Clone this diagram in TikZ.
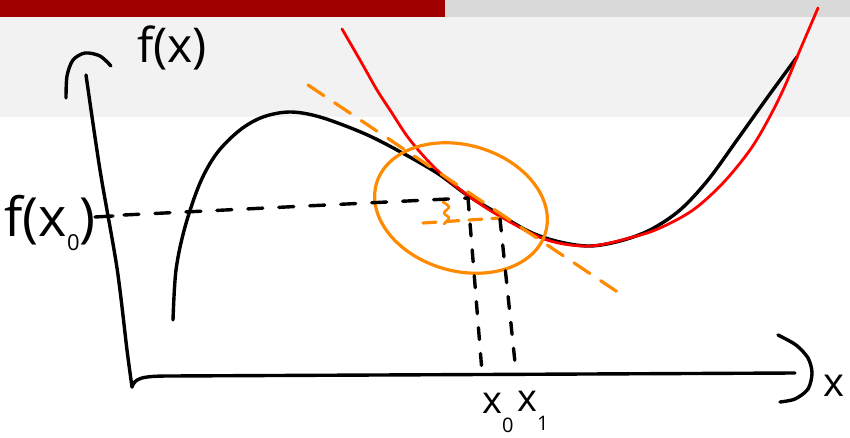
\documentclass[tikz,border=0pt]{standalone}
\usepackage{fontspec}
\newfontfamily\hand{Open Sans}
\definecolor{barred}{HTML}{A00000}
\definecolor{bargray}{HTML}{D9D9D9}
\definecolor{band}{HTML}{F2F2F2}
\definecolor{orng}{HTML}{FF8A00}
\tikzset{
  ink/.style={line width=3.4pt, line cap=round, line join=round},
  blackink/.style={ink, black},
  redink/.style={ink, red, line width=2.8pt},
  orink/.style={ink, orng, line width=3.2pt},
  dsh/.style={dash pattern=on 15pt off 16pt},
  lbl/.style={font=\hand, inner sep=0pt, text=black}
}
\begin{document}
\begin{tikzpicture}[x=1pt,y=-1pt]
\useasboundingbox (0,0) rectangle (850,438);
% header
\fill[barred] (0,0) rectangle (445,17);
\fill[bargray] (445,0) rectangle (850,17);
\fill[band] (0,17) rectangle (850,117);
% axes
\coordinate (ytop) at (86,75);
\coordinate (corner) at (132,387);
\coordinate (xend) at (795,373);
\draw[blackink] plot[smooth] coordinates {(86,75) (100,170) (117,268) (127,350) (132,387)};
\draw[blackink] (corner) .. controls (135,378) and (142,376) .. (170,376) -- (xend);
\draw[blackink] plot[smooth] coordinates {(66,98) (67,76) (73,60) (85,53) (100,56) (111,66)};
\draw[blackink] plot[smooth] coordinates {(778,335) (796,345) (808,358) (812,373) (808,389) (795,399) (780,402)};
% main curve
\draw[blackink] plot[smooth, tension=0.55] coordinates {(173,320) (176,270) (185,227) (200,183) (217,153) (240,130) (263,117) (290,112) (320,117) (363,133) (397,150) (437,173) (467,195) (497,213) (530,232) (560,242) (590,246) (620,241) (650,230) (680,210) (708,180) (737,140) (767,98) (797,57)};
% red approximation
\draw[redink] plot[smooth, tension=0.55] coordinates {(342,29) (360,60) (377,90) (390,110) (410,140) (437,170) (470,197) (503,218) (547,240) (590,246) (633,237) (660,228) (693,210) (723,183) (750,150) (768,120) (784,88) (800,50) (818,8)};
% tangent
\coordinate (t1) at (308,85);
\coordinate (t2) at (625,297);
\draw[orink, dash pattern=on 19pt off 13pt] (t1) -- (t2);
% ellipse
\coordinate (ec) at (461,208);
\draw[orink, rotate around={-16:(ec)}] (ec) ellipse [x radius=88, y radius=63];
% small orange marks
\draw[orink, dash pattern=on 13pt off 10pt] (423,223) -- (500,218);
\draw[orink, line width=2.6pt] plot[smooth] coordinates {(443,202) (449,207) (444,213) (449,218) (444,224)};
% dashed guides
\coordinate (p0) at (468,198);
\coordinate (p1) at (500,219);
\coordinate (a0) at (482,372);
\coordinate (a1) at (516,372);
\draw[blackink] (95,217) -- (113,216);
\draw[blackink, dsh] (124,215) -- (p0);
\draw[blackink, dash pattern=on 12pt off 14pt] (p0) -- (a0);
\draw[blackink, dash pattern=on 12pt off 14pt] (p1) -- (a1);
% labels
\node[lbl, font=\hand\fontsize{48}{48}\selectfont] (fx) at (172,48) {f(x)};
\node[lbl, font=\hand\fontsize{54}{54}\selectfont] (fx0) at (50,223) {f(x\raisebox{-0.25em}{\fontsize{22}{22}\selectfont 0})};
\node[lbl, font=\hand\fontsize{38}{38}\selectfont, anchor=base west] (x0) at (482,413) {x\raisebox{-19pt}{\fontsize{20}{20}\selectfont 0}};
\node[lbl, font=\hand\fontsize{38}{38}\selectfont, anchor=base west] (x1) at (517,411) {x\raisebox{-19pt}{\fontsize{20}{20}\selectfont 1}};
\node[lbl, font=\hand\fontsize{40}{40}\selectfont] (xl) at (834,386) {x};
\end{tikzpicture}
\end{document}
